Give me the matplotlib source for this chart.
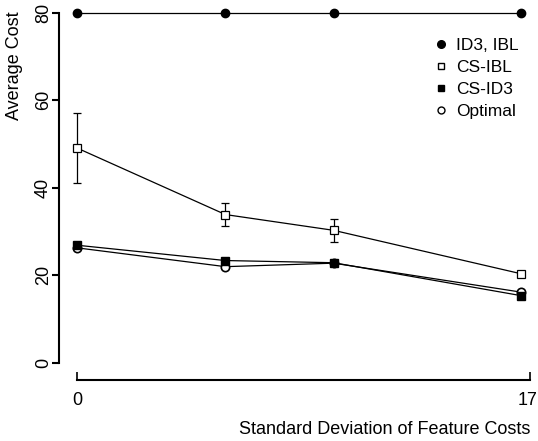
import matplotlib
matplotlib.use("Agg")
import matplotlib.pyplot as plt
from matplotlib.lines import Line2D
from matplotlib.transforms import ScaledTranslation

plt.rcParams['font.family'] = ['Liberation Sans', 'DejaVu Sans']

# data
sd = [0, 5.57, 9.63, 16.65]
id3_ibl = [80, 80, 80, 80]
cs_ibl = [49.1, 33.9, 30.3, 20.4]
cs_ibl_err = [8.1, 2.7, 2.7, 0.6]
cs_id3 = [26.9, 23.4, 22.9, 15.4]
cs_id3_err = [0.4, 0.6, 0.4, 0.4]
optimal = [26.3, 22.0, 22.8, 16.2]

W, H = 538, 441
fig = plt.figure(figsize=(W / 100, H / 100), dpi=100)
ax = fig.add_axes([77 / W, 1 - 363 / H, (530 - 77) / W, (363 - 12.7) / H])

ax.plot(sd, id3_ibl, color='black', lw=0.9, marker='o', ms=6, clip_on=False)
ax.errorbar(sd, cs_ibl, yerr=cs_ibl_err, color='black', lw=0.9, elinewidth=0.9,
            capsize=3, marker='s', ms=6, mfc='white', mec='black', mew=0.9,
            clip_on=False)
ax.errorbar(sd, cs_id3, yerr=cs_id3_err, color='black', lw=0.9, elinewidth=0.9,
            capsize=3, marker='s', ms=5.5, mfc='black', clip_on=False)
ax.plot(sd, optimal, color='black', lw=0.9, marker='o', ms=6, mfc='white',
        mec='black', mew=1.2, clip_on=False)

ax.set_xlim(0, 17)
ax.set_ylim(0, 80)
ax.spines['top'].set_visible(False)
ax.spines['right'].set_visible(False)
ax.spines['left'].set_position(('outward', 13))
ax.spines['bottom'].set_position(('outward', 12.2))
ax.spines['left'].set_bounds(0, 80)
ax.spines['bottom'].set_bounds(0, 17)
ax.spines['left'].set_linewidth(1.5)
ax.spines['bottom'].set_linewidth(1.5)

ax.set_yticks([0, 20, 40, 60, 80])
ax.set_xticks([0, 17])
ax.tick_params(axis='y', direction='out', length=5, width=1.5, labelsize=13, pad=0)
ax.tick_params(axis='x', direction='in', length=6, width=1.2, labelsize=13, pad=9)
for lab in ax.get_yticklabels():
    lab.set_rotation(90)
    lab.set_va('center')
# keep the "17" inside the image edge
last = ax.get_xticklabels()[-1]
last.set_transform(last.get_transform() + ScaledTranslation(-2 / 100, 0, fig.dpi_scale_trans))

fig.text(15 / W, 1 - 66 / H, 'Average Cost', rotation=90, ha='center',
         va='center', fontsize=13)
fig.text(530 / W, 1 - 430 / H, 'Standard Deviation of Feature Costs',
         ha='right', va='center', fontsize=13)

handles = [
    Line2D([], [], ls='none', marker='o', ms=5.5, color='black'),
    Line2D([], [], ls='none', marker='s', ms=5, mfc='white', mec='black'),
    Line2D([], [], ls='none', marker='s', ms=5, color='black'),
    Line2D([], [], ls='none', marker='o', ms=5, mfc='white', mec='black'),
]
labels = ['ID3, IBL', 'CS-IBL', 'CS-ID3', 'Optimal']
fig.legend(handles, labels, loc='upper left', bbox_to_anchor=(424 / W, 1 - 29 / H),
           frameon=False, fontsize=12.5, handlelength=1, handletextpad=0.35,
           labelspacing=0.4, borderpad=0)

fig.savefig('out.png', dpi=100)
